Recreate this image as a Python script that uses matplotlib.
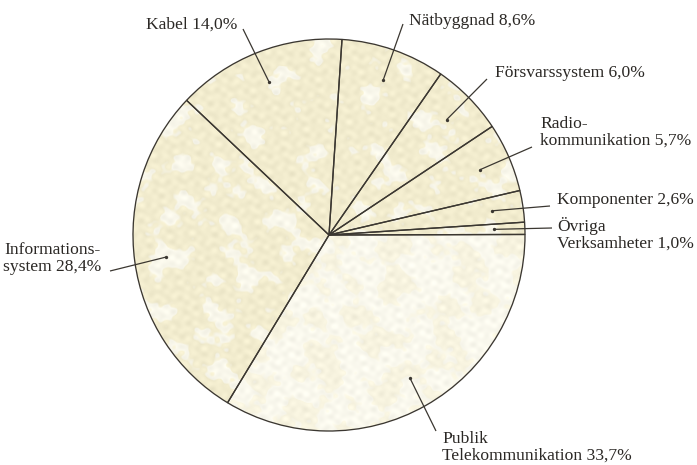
import numpy as np
import matplotlib
matplotlib.use("Agg")
import matplotlib.pyplot as plt
from matplotlib.colors import to_rgb

# Ericsson business areas, share of sales (%)
segments = ["Kabel", "Informationssystem", "Publik Telekommunikation",
            "Övriga Verksamheter", "Komponenter", "Radiokommunikation",
            "Försvarssystem", "Nätbyggnad"]
shares = [14.0, 28.4, 33.7, 1.0, 2.6, 5.7, 6.0, 8.6]
label_texts = ["Kabel 14,0%", "Informations-\nsystem 28,4%",
               "Publik\nTelekommunikation 33,7%", "Övriga\nVerksamheter 1,0%",
               "Komponenter 2,6%", "Radio-\nkommunikation 5,7%",
               "Försvarssystem 6,0%", "Nätbyggnad 8,6%"]

W, H = 697, 465


def px(x, y):
    """Top-left pixel coordinates -> axes data coordinates."""
    return x, H - y


# label anchor (pixel, baseline of last line), alignment, leader-line end (pixel)
label_pos = [(237, 29), (101, 271), (442, 460), (557, 248),
             (557, 204), (540, 145), (495, 77), (409, 25)]
label_ha = ["right", "right", "left", "left", "left", "left", "left", "left"]
leader_end = [(243, 29), (110, 271), (436, 431), (552, 228),
              (550, 206), (532, 147), (487, 79), (403, 24)]

fill = "#f2ecce"
fill_light = "#f7f3df"
colors = [fill, fill, fill_light, fill, fill, fill, fill, fill]
spot_level = [1.0, 0.45, -0.5, 0.7, 0.7, 0.7, 0.7, 0.85]
edge = "#3b3731"
paper = np.array(to_rgb("#fbfaf1"))

fig = plt.figure(figsize=(W / 100, H / 100), dpi=100)
ax = fig.add_axes([0, 0, 1, 1])
ax.set_xlim(0, W)
ax.set_ylim(0, H)
ax.set_aspect("equal")
ax.axis("off")

cx, cy = px(329, 235)
R = 196
start = 86.2
wedges, _ = ax.pie(shares, startangle=start, counterclock=True,
                   radius=R, center=(cx, cy),
                   wedgeprops=dict(facecolor="none", edgecolor=edge,
                                   linewidth=0.95, zorder=2))

# mottled paper texture built from a fixed set of interfering waves
yy, xx = np.mgrid[0:H, 0:W].astype(float)
waves = [(31, 0.3, 0.0), (43, 1.2, 1.1), (27, 2.1, 2.3), (57, 2.7, 0.7),
         (36, 0.9, 4.0), (49, 1.8, 5.2), (23, 2.5, 3.3), (65, 0.1, 1.9),
         (29, 1.5, 0.4), (41, 2.9, 2.8), (77, 0.6, 3.7), (53, 2.3, 4.6)]
fine = [(9.3, 0.4, 0.2), (11.7, 1.4, 2.5), (7.9, 2.2, 1.3), (13.1, 2.8, 4.1),
        (8.6, 1.0, 5.5), (10.4, 1.9, 3.0)]
field = np.zeros_like(xx)
for lam, ang, ph in waves:
    k = 2 * np.pi / lam
    field += np.sin(k * (np.cos(ang) * xx + np.sin(ang) * yy) + ph)
field /= np.sqrt(len(waves) / 2)
grain = np.zeros_like(xx)
for lam, ang, ph in fine:
    k = 2 * np.pi / lam
    grain += np.sin(k * (np.cos(ang) * xx + np.sin(ang) * yy) + ph)
grain /= np.sqrt(len(fine) / 2)
field = field + 0.35 * grain

for w, col, lvl in zip(wedges, colors, spot_level):
    base = np.array(to_rgb(col))
    m = np.clip((field - lvl) / 0.5, 0, 1)[..., None] * 0.85
    tone = (0.012 * grain)[..., None]
    img = np.clip(base * (1 - m) + paper * m - tone, 0, 1)
    im = ax.imshow(img, extent=(0, W, 0, H), origin="upper",
                   interpolation="bilinear", zorder=1)
    im.set_clip_path(w)

font = dict(family="Liberation Serif", size=12.6, color="#2b2825")
for w, txt, pos, ha, end in zip(wedges, label_texts, label_pos, label_ha, leader_end):
    mid = np.deg2rad((w.theta1 + w.theta2) / 2)
    dx, dy = cx + 0.84 * R * np.cos(mid), cy + 0.84 * R * np.sin(mid)
    ex, ey = px(*end)
    ax.plot([dx, ex], [dy, ey], color=edge, lw=0.9, solid_capstyle="butt", zorder=3)
    ax.plot(dx, dy, "o", color=edge, ms=2.4, mew=0, zorder=3)
    tx, ty = px(*pos)
    ax.text(tx, ty, txt, ha=ha, va="baseline", linespacing=1.1, zorder=4, **font)

ax.set_xlim(0, W)
ax.set_ylim(0, H)
fig.savefig("out.png", dpi=100)
